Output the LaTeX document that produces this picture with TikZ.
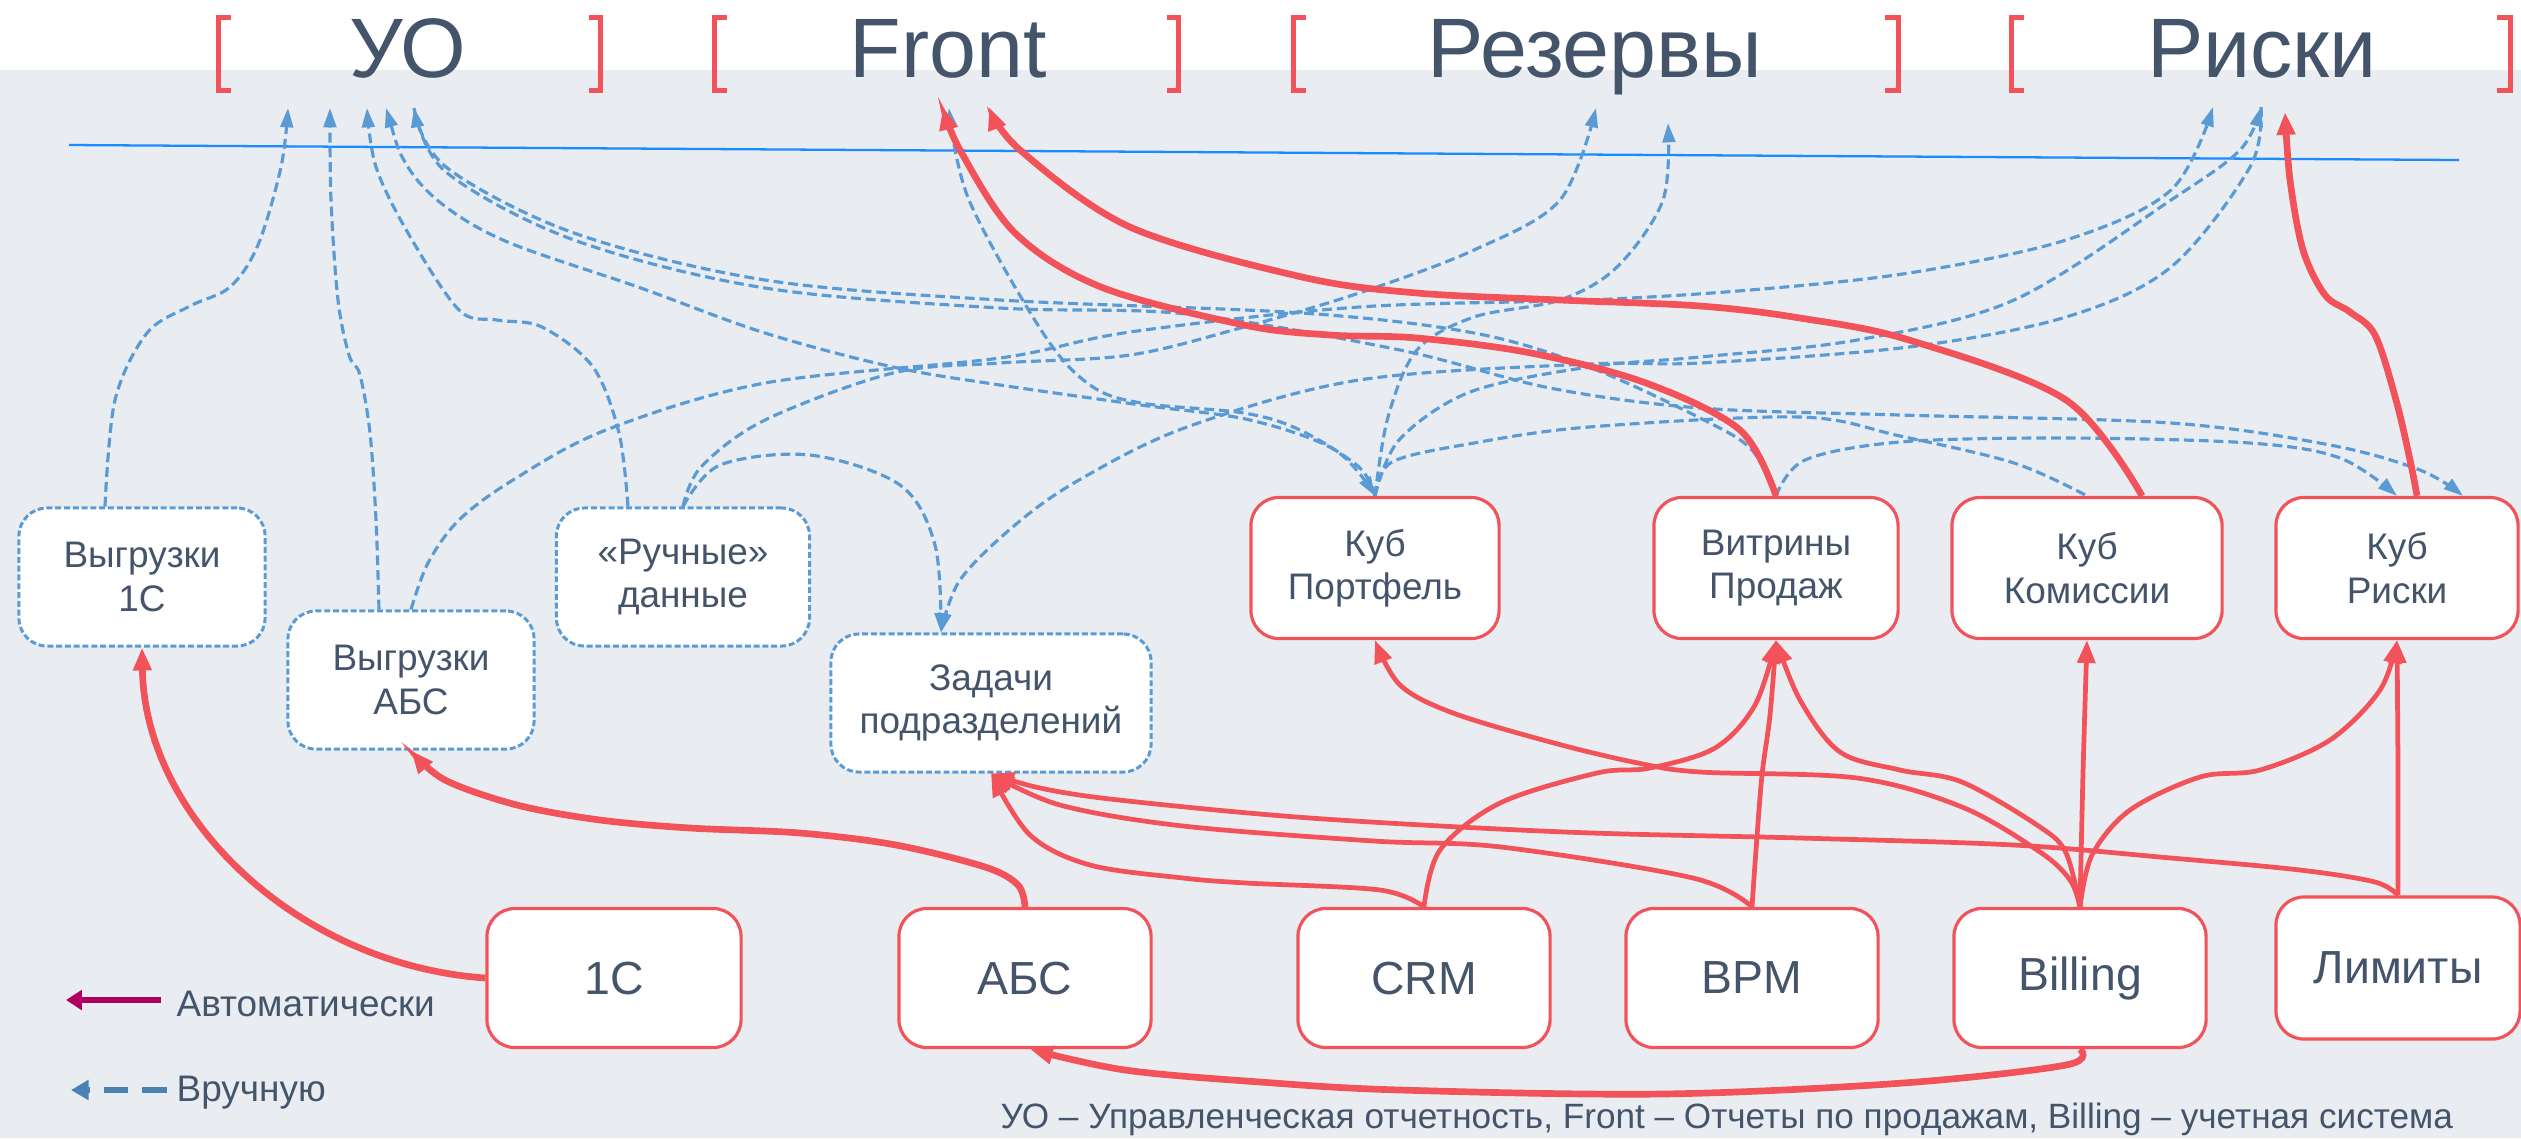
\documentclass[tikz,border=0pt]{standalone}
\usepackage{fontspec}
\setmainfont{Liberation Sans}
\usetikzlibrary{arrows.meta}
\definecolor{bgc}{HTML}{E9EDF1}
\definecolor{txc}{HTML}{44546A}
\definecolor{rdc}{HTML}{F2525A}
\definecolor{blc}{HTML}{5B9BD5}
\definecolor{tlc}{HTML}{1A8CFF}
\definecolor{mgc}{HTML}{B0005F}
\definecolor{lbc}{HTML}{4A82B4}
\begin{document}
\begin{tikzpicture}[x=0.01cm,y=-0.01cm,
  rbox/.style={draw=rdc, line width=0.9pt, rounded corners=0.28cm, fill=white, align=center, text=txc, inner sep=0pt, font=\fontsize{10.5}{12.3}\selectfont, minimum height=1.41cm, minimum width=2.46cm},
  bbox/.style={rbox, draw=blc, line width=0.85pt, dash pattern=on 1.7pt off 0.8pt, minimum height=1.38cm},
  big/.style={font=\fontsize{13.2}{15}\selectfont, minimum height=1.39cm},
  rd/.style={draw=rdc, line width=1.35pt, -{Triangle[length=6.5pt,width=5pt]}},
  rdt/.style={rd, line width=1.9pt},
  bd/.style={draw=blc, line width=0.9pt, dash pattern=on 2.8pt off 1.4pt},
  ba/.style={bd, -{Triangle[length=5.5pt,width=3.6pt]}},
  bab/.style={bd, {Triangle[length=5.5pt,width=3.6pt]}-{Triangle[length=5.5pt,width=3.6pt]}},
  ttl/.style={text=txc, font=\fontsize{24}{28}\selectfont, anchor=base, inner sep=0pt},
  brk/.style={draw=rdc, line width=1.45pt},
  sm/.style={smooth, tension=0.55}
]
\useasboundingbox (0,0) rectangle (2521,1138);
\fill[white] (0,0) rectangle (2521,70);
\fill[bgc] (0,70) rectangle (2521,1138);

% header
\draw[brk] (231,17.5) -- (218.5,17.5) -- (218.5,90.5) -- (231,90.5);
\draw[brk] (589,17.5) -- (600.5,17.5) -- (600.5,90.5) -- (589,90.5);
\draw[brk] (727,17.5) -- (714.5,17.5) -- (714.5,90.5) -- (727,90.5);
\draw[brk] (1167,17.5) -- (1178.5,17.5) -- (1178.5,90.5) -- (1167,90.5);
\draw[brk] (1306,17.5) -- (1293.5,17.5) -- (1293.5,90.5) -- (1306,90.5);
\draw[brk] (1885,17.5) -- (1898.5,17.5) -- (1898.5,90.5) -- (1885,90.5);
\draw[brk] (2024,17.5) -- (2011.5,17.5) -- (2011.5,90.5) -- (2024,90.5);
\draw[brk] (2497,17.5) -- (2510.5,17.5) -- (2510.5,90.5) -- (2497,90.5);
\node[ttl] (tuo) at (408,77) {УО};
\node[ttl] (tfr) at (948,77) {Front};
\node[ttl] (trz) at (1595,77) {Резервы};
\node[ttl] (trk) at (2262,77) {Риски};

\coordinate (l1) at (69,145);
\coordinate (l2) at (2459,160);
\draw[draw=tlc, line width=0.65pt] (l1) -- (l2);

% targets
\coordinate (uo1) at (288,108);
\coordinate (uo2) at (330,108);
\coordinate (uo3) at (367,108);
\coordinate (uo4) at (386,108);
\coordinate (uo5) at (414,108);
\coordinate (fr1) at (949,108);
\coordinate (fr2) at (943,107);
\coordinate (fr3) at (989,107);
\coordinate (rz1) at (1596,108);
\coordinate (rz2) at (1668,123);
\coordinate (rk1) at (2213,107);
\coordinate (rk2) at (2261,107);
\coordinate (rk3) at (2285,112);

% nodes
\node[bbox, minimum width=2.46cm] (v1) at (142,577) {Выгрузки\\1С};
\node[bbox, minimum width=2.46cm] (v2) at (411,680) {Выгрузки\\АБС};
\node[bbox, minimum width=2.53cm] (hd) at (683,577) {«Ручные»\\данные};
\node[bbox, minimum width=3.2cm] (ts) at (991,703) {Задачи\\подразделений};
\node[rbox, minimum width=2.48cm] (kp) at (1375,568) {Куб\\Портфель};
\node[rbox, minimum width=2.44cm] (vp) at (1776,568) {Витрины\\Продаж};
\node[rbox, minimum width=2.70cm] (kk) at (2087,568) {Куб\\Комиссии};
\node[rbox, minimum width=2.42cm] (kr) at (2397,568) {Куб\\Риски};
\node[rbox, big, minimum width=2.54cm] (s1) at (614,978) {1С};
\node[rbox, big, minimum width=2.52cm] (ab) at (1025,978) {АБС};
\node[rbox, big, minimum width=2.52cm] (crm) at (1424,978) {CRM};
\node[rbox, big, minimum width=2.52cm] (bpm) at (1752,978) {BPM};
\node[rbox, big, minimum width=2.52cm] (bil) at (2080,978) {Billing};
\node[rbox, big, minimum width=2.44cm, minimum height=1.42cm] (lim) at (2398,968) {Лимиты};

% blue dashed connectors
\draw[ba] plot[sm] coordinates {([xshift=-0.37cm]v1.north) (115,400) (147,333) (190,306) (230,287) (258,245) (281,167) (uo1)};
\draw[ba] plot[sm] coordinates {([xshift=-0.32cm]v2.north) (376,520) (370,433) (360,375) (349,355) (338,300) (331,200) (uo2)};
\draw[ba] plot[sm] coordinates {([xshift=-0.55cm]hd.north) (619,433) (593,367) (542,327) (497,320) (459,310) (408,233) (376,167) (uo3)};
\draw[bab] plot[sm] coordinates {(uo4) (408,167) (446,207) (510,243) (638,287) (765,333) (893,367) (1000,385) (1141,405) (1250,420) (1335,450) (kp.north)};
\draw[ba] plot[sm] coordinates {(vp.north) (1752,450) (1704,420) (1589,367) (1474,333) (1302,313) (1000,300) (765,280) (574,233) (446,167) (uo5)};
\draw[ba] plot[sm] coordinates {(uo5) (446,172) (574,240) (765,288) (1000,308) (1187,314) (1400,350) (1550,388) (1700,408) (1900,415) (2171,423) (2330,445) (2420,470) ([xshift=0.66cm]kr.north)};
\draw[ba] plot[sm] coordinates {(kp.north) (1359,467) (1300,430) (1244,413) (1141,403) (1090,385) (1043,333) (969,200) (fr1)};
\draw[ba] plot[sm] coordinates {(kp.north) (1388,417) (1417,350) (1474,317) (1560,300) (1617,267) (1663,200) (rz2)};
\draw[bd] plot[sm] coordinates {(kp.north) (1392,462) (1474,443) (1589,427) (1800,417) (1900,436) (2014,463) (kk.north)};
\draw[ba] plot[sm] coordinates {(kp.north) (1399,440) (1470,392) (1589,367) (1700,357) (1857,340) (2014,300) (2171,200) (2240,150) (rk2)};
\draw[ba] plot[sm] coordinates {(vp.north) (1805,460) (1900,442) (2066,438) (2250,443) (2340,458) (kr.north)};
\draw[ba] plot[sm] coordinates {(hd.north) (701,467) (765,420) (893,373) (1000,363) (1130,355) (1244,327) (1359,293) (1474,250) (1560,200) (rz1)};
\draw[ba] plot[sm] coordinates {(hd.north) (720,465) (810,455) (900,485) (935,545) ([xshift=-0.5cm]ts.north)};
\draw[ba] plot[sm] coordinates {(v2.north) (428,563) (459,520) (513,480) (606,430) (765,383) (1000,358) (1130,332) (1359,307) (1589,300) (1750,290) (1909,273) (2066,240) (2171,190) (rk1)};
\draw[ba] plot[sm] coordinates {(rk2) (2250,167) (2171,267) (2066,317) (1909,347) (1700,363) (1589,364) (1359,380) (1187,427) (1079,480) (1015,525) (960,580) ([xshift=-0.5cm]ts.north)};

% red connectors
\draw[rdt] (s1.west) .. controls (300,965) and (145,820) .. (v1.south);
\draw[rdt] plot[sm] coordinates {(ab.north) (1018,885) (985,867) (896,845) (800,833) (690,828) (600,820) (517,805) (445,780) (v2.south)};
\draw[rdt] plot[sm] coordinates {(bil.south) (2066,1065) (1903,1083) (1662,1094) (1400,1090) (1260,1082) (1125,1070) ([xshift=0.05cm]ab.south)};
\draw[rd] plot[sm] coordinates {(crm.north) (1380,890) (1246,883) (1183,878) (1090,865) (1030,835) (ts.south)};
\draw[rd] plot[sm] coordinates {(crm.north) (1440,850) (1500,803) (1597,773) (1650,768) (1715,748) (1755,705) (vp.south)};
\draw[rd] plot[sm] coordinates {(bpm.north) (1693,878) (1501,847) (1374,841) (1183,826) (1060,805) (ts.south)};
\draw[rd] plot[sm] coordinates {(bpm.north) (1756,850) (1762,775) (1770,715) (vp.south)};
\draw[rd] plot[sm] coordinates {(bil.north) (2070,880) (2040,852) (1962,807) (1857,778) (1700,772) (1638,763) (1554,743) (1453,713) (1400,685) (kp.south)};
\draw[rd] plot[sm] coordinates {(bil.north) (2066,853) (2040,827) (1962,782) (1900,770) (1840,752) (1800,700) (vp.south)};
\draw[rd] plot[sm] coordinates {(bil.north) (2083,773) (kk.south)};
\draw[rd] plot[sm] coordinates {(bil.north) (2092,855) (2130,810) (2200,777) (2260,770) (2330,740) (2380,690) (kr.south)};
\draw[rd] plot[sm] coordinates {(lim.north) (2398,773) (kr.south)};
\draw[rd] plot[sm] coordinates {(lim.north) (2375,882) (2300,870) (2171,858) (2014,845) (1800,838) (1565,832) (1310,818) (1119,800) (1040,788) (ts.south)};
\draw[rdt] plot[sm] coordinates {([xshift=0.2cm]kr.north) (2410,460) (2396,400) (2375,335) (2350,312) (2325,295) (2303,250) (2290,180) (rk3)};
\draw[rdt] plot[sm] coordinates {(vp.north) (1740,430) (1646,383) (1531,353) (1417,338) (1330,335) (1244,325) (1101,287) (1015,233) (960,150) (fr2)};
\draw[rdt] plot[sm] coordinates {([xshift=0.55cm]kk.north) (2066,400) (1909,340) (1800,318) (1700,306) (1560,300) (1417,293) (1302,277) (1130,227) (1020,150) (fr3)};

% legend
\coordinate (la1) at (161,1000);
\coordinate (la2) at (66,1000);
\draw[draw=mgc, line width=1.8pt, -{Triangle[length=4.5pt,width=5.5pt]}] (la1) -- (la2);
\node[anchor=base west, inner sep=0, text=txc, font=\fontsize{10.5}{12}\selectfont] (lt1) at (176,1016) {Автоматически};
\coordinate (lb1) at (167,1090);
\coordinate (lb2) at (71,1090);
\draw[draw=lbc, line width=1.6pt, dash pattern=on 7pt off 4pt, -{Triangle[length=5pt,width=5.5pt]}] (lb1) -- (lb2);
\node[anchor=base west, inner sep=0, text=txc, font=\fontsize{10.5}{12}\selectfont] (lt2) at (176,1101) {Вручную};

\node[anchor=base west, inner sep=0, text=txc, font=\fontsize{10}{12}\selectfont] (cap) at (1000,1128) {УО – Управленческая отчетность, Front – Отчеты по продажам, Billing – учетная система};
\end{tikzpicture}
\end{document}
